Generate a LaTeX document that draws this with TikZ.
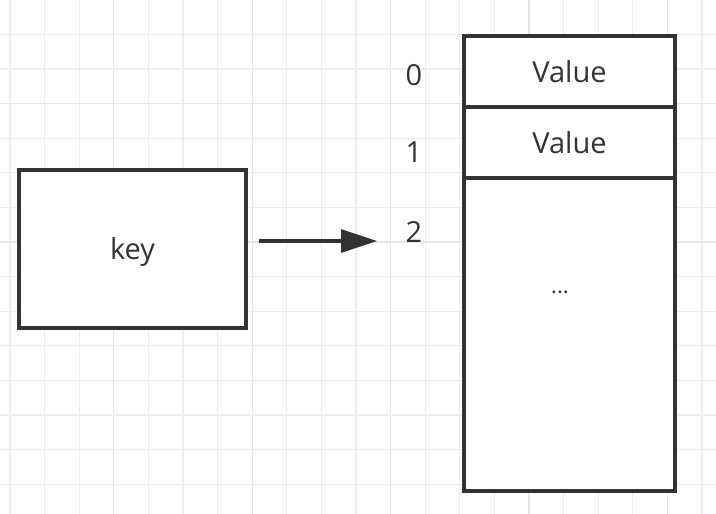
\documentclass[tikz,border=0pt]{standalone}
\usepackage{fontspec}
\setmainfont{Open Sans}
\usetikzlibrary{arrows.meta}
\definecolor{ink}{HTML}{333333}
\definecolor{gridminor}{HTML}{EDEDED}
\definecolor{gridmajor}{HTML}{E6E6E6}
\begin{document}
\begin{tikzpicture}[x=1pt,y=-1pt,
  box/.style={draw=ink,line width=4pt,fill=white,inner sep=0pt,text=ink,font=\fontsize{29}{33}\selectfont},
  idx/.style={text=ink,inner sep=0pt,font=\fontsize{29}{33}\selectfont},
  conn/.style={draw=ink,line width=3.5pt,-{Triangle[length=36pt,width=23pt]}}]
\useasboundingbox (0,0) rectangle (716,514);
\fill[white] (0,0) rectangle (716,514);
% grid
\foreach \i in {0,...,20} {
  \pgfmathsetmacro\gx{10+34.6*\i}
  \pgfmathtruncatemacro\m{mod(\i,4)}
  \ifnum\m=3
    \draw[gridmajor,line width=1.3pt] (\gx,0) -- (\gx,514);
  \else
    \draw[gridminor,line width=1.2pt] (\gx,0) -- (\gx,514);
  \fi
}
\foreach \j in {1,...,14} {
  \pgfmathsetmacro\gy{-0.3+34.6*\j}
  \pgfmathtruncatemacro\m{mod(\j,4)}
  \ifnum\m=3
    \draw[gridmajor,line width=1.3pt] (0,\gy) -- (716,\gy);
  \else
    \draw[gridminor,line width=1.2pt] (0,\gy) -- (716,\gy);
  \fi
}
% key box
\node[box,minimum width=227pt,minimum height=158pt] (key) at (132.5,249) {};
\node[text=ink,inner sep=0pt,font=\fontsize{29}{33}\selectfont] (keylbl) at (132.5,252) {key};
% array cells
\node[box,minimum width=211pt,minimum height=71pt] (c0) at (569.5,71.5) {Value};
\node[box,minimum width=211pt,minimum height=71pt] (c1) at (569.5,142.5) {Value};
\node[box,minimum width=211pt,minimum height=312.5pt] (c2) at (569.5,334.5) {};
\node[text=ink,font=\fontsize{22}{26}\selectfont] (dots) at (560,292) {...};
% indices
\node[idx] (i0) at (414,75) {0};
\node[idx] (i1) at (414,152) {1};
\node[idx] (i2) at (414,232) {2};
% arrow
\coordinate (a1) at (259,241);
\coordinate (a2) at (377,241);
\draw[conn] (a1) -- (a2);
\end{tikzpicture}
\end{document}
